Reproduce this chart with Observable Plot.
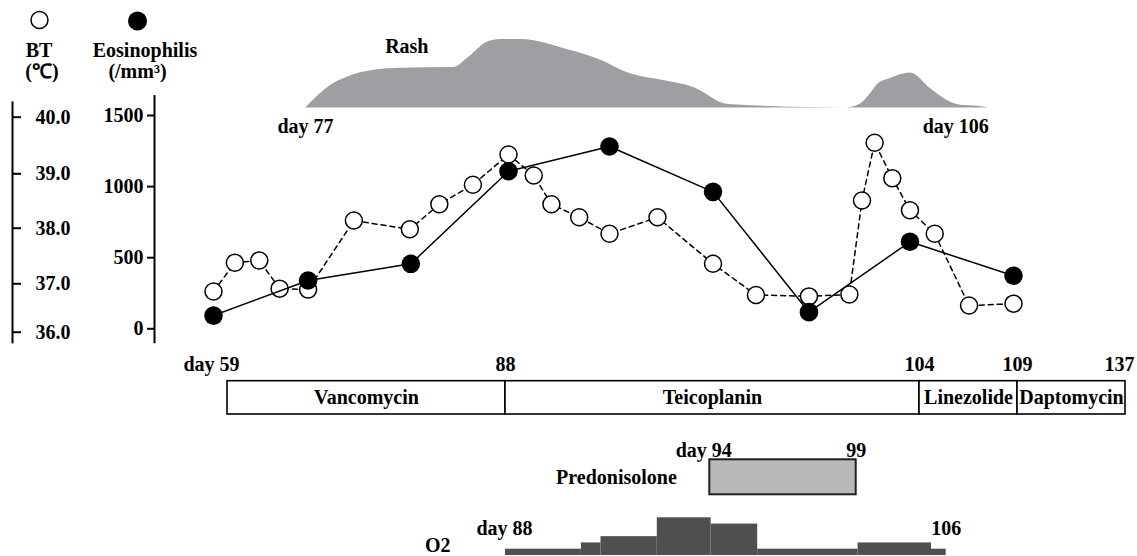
<!DOCTYPE html>
<html>
<head>
<meta charset="utf-8">
<script src="https://cdn.jsdelivr.net/npm/d3@7"></script>
<script src="https://cdn.jsdelivr.net/npm/@observablehq/plot@0.6"></script>
<style>
  html, body { margin: 0; padding: 0; background: #fff; }
  #fig { position: relative; width: 1137px; height: 556px; overflow: hidden; background: #fff; }
  #fig > svg { position: absolute; left: 0; top: 0; }
</style>
</head>
<body>
<div id="fig"></div>
<script>
// ---------------- data ----------------
// Body temperature (°C)
const btDays   = [59, 61.1, 63.5, 65.5, 68.3, 72.8, 78.3, 81.2, 84.5, 88, 89.0, 89.7, 90.8, 92.0, 93.9, 96.1, 97.8, 99.9, 101.5, 102.0, 102.5, 103.2, 103.9, 105.1, 106.8, 109.0];
const btValues = [36.84, 37.38, 37.42, 36.90, 36.88, 38.14, 37.98, 38.44, 38.80, 39.34, 38.97, 38.44, 38.20, 37.90, 38.20, 37.36, 36.77, 36.74, 36.78, 38.51, 39.55, 38.92, 38.33, 37.90, 36.55, 36.59];
// Eosinophils (/mm3)
const eosDays   = [59, 68.3, 78.4, 88, 92, 96.1, 99.9, 103.9, 109];
const eosValues = [93, 340, 457, 1108, 1282, 963, 117, 612, 373];
// axis ticks
const btTicks  = [36, 37, 38, 39, 40];
const eosTicks = [0, 500, 1000, 1500];
// Rash (relative intensity), day 77 – day 106
const rashDays   = [77, 78.06, 78.77, 79.89, 81.03, 83.28, 83.86, 84.71, 85.28, 86.13, 88.25, 89.38, 90.79, 92.2, 93.47, 94.96, 99.92, 100.56, 100.98, 101.27, 101.83, 102.68, 103.53, 104.38, 104.93, 105.51, 106];
const rashLevels = [0, 3.3, 4.5, 5.5, 5.8, 5.9, 7.2, 9.6, 10, 10, 8.4, 7.2, 5.0, 4.0, 3.0, 0.5, 0, 0.6, 2.1, 3.4, 4.3, 5.1, 2.8, 0.85, 0.36, 0.26, 0];
// Antibiotics
const drugNames = ["Vancomycin", "Teicoplanin", "Linezolide", "Daptomycin"];
const drugStart = [59, 88, 104, 109];
const drugEnd   = [88, 104, 109, 137];
const drugDayTicks = [59, 88, 104, 109, 137];
// Predonisolone
const predStart = 94, predEnd = 99;
// O2 (relative flow level), day 88 – day 106
const o2Start = [88, 91.1, 91.9, 94.2, 96.4, 98.3, 102.4, 105.4];
const o2End   = [91.1, 91.9, 94.2, 96.4, 98.3, 102.4, 105.4, 106];
const o2Level = [1, 2, 3, 6, 5, 1, 2, 1];

// ---------------- tables ----------------
const bt   = btDays.map((d, i) => ({day: d, value: btValues[i]}));
const eos  = eosDays.map((d, i) => ({day: d, value: eosValues[i]}));
const rash = rashDays.map((d, i) => ({day: d, level: rashLevels[i]}));
const drugs = drugNames.map((n, i) => ({name: n, start: drugStart[i], end: drugEnd[i]}));
const o2 = o2Level.map((l, i) => ({start: o2Start[i], end: o2End[i], level: l}));

// ---------------- layout ----------------
const W = 1137, H = 556;
const FONT = '"Liberation Serif", "Times New Roman", Times, serif';
const base = {
  width: W, height: H,
  marginTop: 0, marginRight: 0, marginBottom: 0, marginLeft: 0,
  style: {background: "transparent", fontFamily: FONT, fontSize: "20px", fontWeight: "bold", color: "black", overflow: "visible"}
};
const fig = document.getElementById("fig");
const add = (el) => fig.appendChild(el);

// main-chart scales (piecewise linear, as in the schematic figure)
const mainX = {type: "linear", domain: [59, 88, 104, 109], range: [213, 508, 912, 1013], axis: null};
const btY   = {type: "linear", domain: btTicks, range: [331.7, 283.3, 227.7, 173.3, 116.7], axis: null};
const eosY  = {type: "linear", domain: [0, 1500], range: [328.3, 115], axis: null};

// Rash panel
add(Plot.plot({...base,
  x: {type: "linear", domain: [77, 106], range: [305, 988.3], axis: null},
  y: {type: "linear", domain: [0, 10], range: [107.5, 39], axis: null},
  marks: [
    Plot.areaY(rash, {x: "day", y: "level", curve: "monotone-x", fill: "#9e9fa3"}),
    Plot.text(["Rash"], {x: 81.3, y: 8, text: d => d, lineAnchor: "bottom"}),
    Plot.text(["day 77"], {x: 77, y: 0, dy: 25, text: d => d, lineAnchor: "bottom", textAnchor: "middle"}),
    Plot.text(["day 106"], {x: 106, y: 0, dy: 25, text: d => d, lineAnchor: "bottom", textAnchor: "end"})
  ]
}));

// BT axis (left, ticks to the right)
add(Plot.plot({...base, marginLeft: 12, marginRight: W - 12,
  y: btY,
  marks: [
    Plot.ruleX([0], {x: null, y1: 35.76, y2: 40.27, stroke: "black", strokeWidth: 2}),
    Plot.axisY(btTicks, {anchor: "right", tickSize: 8, tickPadding: 15, tickFormat: d => d.toFixed(1), strokeWidth: 2})
  ]
}));

// Eosinophil axis
add(Plot.plot({...base, marginLeft: 154, marginRight: W - 154,
  y: eosY,
  marks: [
    Plot.ruleX([0], {x: null, y1: -105, y2: 1640, stroke: "black", strokeWidth: 2}),
    Plot.axisY(eosTicks, {anchor: "left", tickSize: 7, tickPadding: 4, tickFormat: d => String(d), strokeWidth: 2})
  ]
}));

// BT series
add(Plot.plot({...base,
  x: mainX, y: btY,
  marks: [
    Plot.line(bt, {x: "day", y: "value", stroke: "black", strokeWidth: 1.5, strokeDasharray: "5,4"}),
    Plot.dot(bt, {x: "day", y: "value", r: 8.5, fill: "white", stroke: "black", strokeWidth: 1.5})
  ]
}));

// Eosinophil series
add(Plot.plot({...base,
  x: mainX, y: eosY,
  marks: [
    Plot.line(eos, {x: "day", y: "value", stroke: "black", strokeWidth: 1.5}),
    Plot.dot(eos, {x: "day", y: "value", r: 9.3, fill: "black", stroke: "none"})
  ]
}));

// Antibiotic bar
add(Plot.plot({...base,
  x: {type: "linear", domain: drugDayTicks, range: [227, 505, 919, 1017, 1125], axis: null},
  y: {type: "linear", domain: [0, 1], range: [414, 380.7], axis: null},
  marks: [
    Plot.rect(drugs, {x1: "start", x2: "end", y1: 0, y2: 1, fill: "white", stroke: "black", strokeWidth: 1.6}),
    Plot.text(drugs, {x: d => (d.start + d.end) / 2, y: 0.5, text: "name"}),
    Plot.text(drugDayTicks.slice(0, 1), {x: d => d, y: 1, dy: -10, dx: 12, text: d => `day ${d}`, lineAnchor: "bottom", textAnchor: "end"}),
    Plot.text(drugDayTicks.slice(1, 4), {x: d => d, y: 1, dy: -10, text: d => String(d), lineAnchor: "bottom"}),
    Plot.text(drugDayTicks.slice(4), {x: d => d, y: 1, dy: -10, dx: -6, text: d => String(d), lineAnchor: "bottom"})
  ]
}));

// Predonisolone
add(Plot.plot({...base,
  x: {type: "linear", domain: [predStart, predEnd], range: [709.3, 855.7], axis: null},
  y: {type: "linear", domain: [0, 1], range: [494.3, 459.3], axis: null},
  marks: [
    Plot.rect([{start: predStart, end: predEnd}], {x1: "start", x2: "end", y1: 0, y2: 1, fill: "#b9b9ba", stroke: "#1f1f1f", strokeWidth: 2}),
    Plot.text([predStart], {x: d => d, y: 1, dy: -3, dx: 22, text: d => `day ${d}`, lineAnchor: "bottom", textAnchor: "end"}),
    Plot.text([predEnd], {x: d => d, y: 1, dy: -3, text: d => String(d), lineAnchor: "bottom"}),
    Plot.text(["Predonisolone"], {x: predStart, y: 0.5, dx: -33, text: d => d, textAnchor: "end"})
  ]
}));

// O2
add(Plot.plot({...base,
  x: {type: "linear", domain: [88, 106], range: [505, 945.7], axis: null},
  y: {type: "linear", domain: [0, 6], range: [555, 517.3], axis: null},
  marks: [
    Plot.rectY(o2, {x1: "start", x2: "end", y: "level", fill: "#4f4f51"}),
    Plot.text([88], {x: d => d, y: 3.2, dx: 27, text: d => `day ${d}`, lineAnchor: "bottom", textAnchor: "end"}),
    Plot.text([106], {x: d => d, y: 3.2, text: d => String(d), lineAnchor: "bottom"}),
    Plot.text(["O2"], {x: 88, y: 0.6, dx: -55, text: d => d, lineAnchor: "bottom", textAnchor: "end"})
  ]
}));

// Legend (header above the axes)
const legend = d3.create("svg")
  .attr("width", 230).attr("height", 92)
  .style("font-family", FONT).style("font-size", "20px").style("font-weight", "bold");
legend.append("circle").attr("cx", 39.5).attr("cy", 20).attr("r", 8.5)
  .attr("fill", "white").attr("stroke", "black").attr("stroke-width", 1.5);
legend.append("circle").attr("cx", 137.5).attr("cy", 21).attr("r", 9.5).attr("fill", "black");
const lt = [
  {t: "BT", x: 39, y: 57},
  {t: "(℃)", x: 42, y: 78},
  {t: "Eosinophilis", x: 145, y: 57},
  {t: "(/mm³)", x: 137.5, y: 78}
];
legend.selectAll("text").data(lt).join("text")
  .attr("x", d => d.x).attr("y", d => d.y).attr("text-anchor", "middle").text(d => d.t);
fig.appendChild(legend.node());
</script>
</body>
</html>
